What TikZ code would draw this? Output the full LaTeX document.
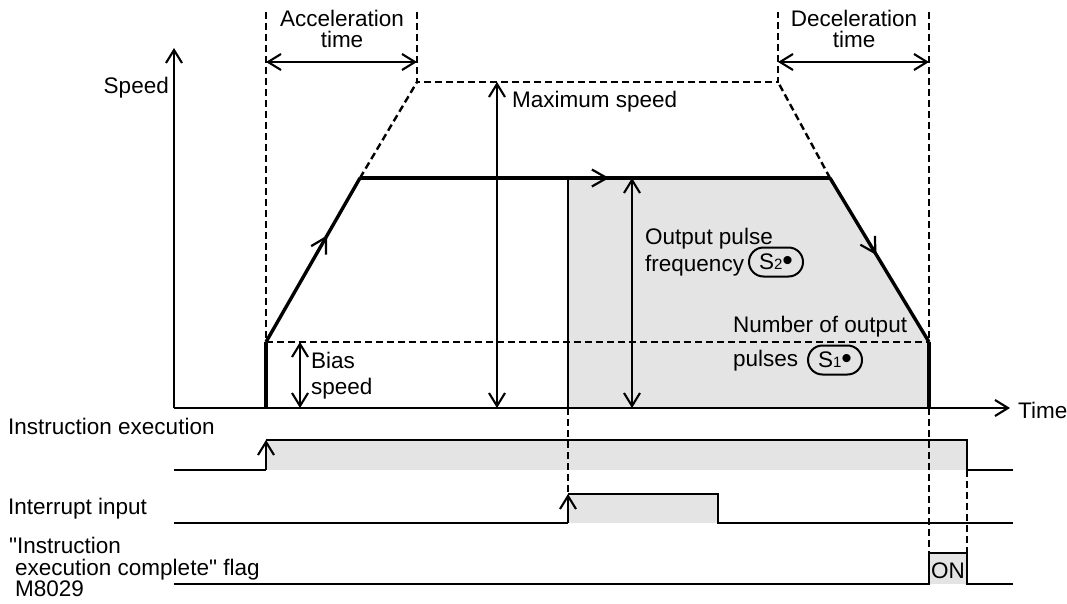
\documentclass[tikz,border=0pt]{standalone}
\usepackage{fontspec}
\setmainfont{Liberation Sans}[Ligatures=TeXOff]
\usetikzlibrary{arrows.meta,decorations.markings,shapes.misc}
\definecolor{shadegray}{HTML}{E4E4E4}
\newcommand{\opnd}[1]{S{\fontsize{15}{15}\selectfont #1}{\fontsize{30}{30}\selectfont\raisebox{-1.5pt}{\textbullet}}}

\begin{document}
\begin{tikzpicture}[x=1pt, y=-1pt, >={Straight Barb[length=13pt,width=16pt]},
  thinline/.style={line width=2.1pt},
  thickline/.style={line width=3.4pt},
  dashline/.style={line width=2.4pt, dash pattern=on 7pt off 4pt},
  txt/.style={font=\fontsize{22.5}{21}\selectfont, inner sep=0pt},
  pill/.style={draw, rounded rectangle, line width=2pt, minimum width=54pt, minimum height=29pt, inner sep=0pt, font=\fontsize{22.5}{21}\selectfont},
  midarrow/.style={postaction={decorate, decoration={markings,
    mark=at position #1 with {\arrow{Straight Barb[length=15pt,width=17pt,line width=2.2pt]}}}}}]
  \useasboundingbox (0,0) rectangle (1067,604);
  % points of the speed curve
  \coordinate (o) at (174,408);
  \coordinate (ytop) at (174,48);
  \coordinate (xend) at (1010,408);
  \coordinate (b0) at (266,408);
  \coordinate (b1) at (266,342);
  \coordinate (c1) at (360,178);
  \coordinate (c2) at (830,178);
  \coordinate (d1) at (929,342);
  \coordinate (d0) at (929,408);
  \coordinate (t1) at (417,82);
  \coordinate (t2) at (778,82);
  \coordinate (s0) at (568,408);
  \coordinate (s1) at (568,178);
  \coordinate (accl) at (266,12);
  \coordinate (accr) at (417,12);
  \coordinate (decl) at (778,12);
  \coordinate (decr) at (929,12);
  \fill[shadegray] (s1) -- (c2) -- (d1) -- (d0) -- (s0) -- cycle;
  \fill[shadegray] (266,440) rectangle (967,470);
  \fill[shadegray] (568,494) rectangle (718,523);
  \fill[shadegray] (929,553) rectangle (967,584);
  % dashed guides
  \draw[dashline] (accl) -- (b1);
  \draw[dashline] (accr) -- (t1) -- (t2) -- (decl);
  \draw[dashline] (decr) -- (d1);
  \draw[dashline] (c1) -- (t1);
  \draw[dashline] (c2) -- (t2);
  \draw[dashline] (b1) -- (d1);
  \draw[dashline] (s0) -- (568,494);
  \draw[dashline] (d0) -- (929,553);
  \draw[dashline] (967,470) -- (967,553);
  % axes
  \draw[thinline, ->] (o) -- (ytop);
  \draw[thinline, ->] (o) -- (xend);
  \node[txt, anchor=base east] (speed) at (169,94) {Speed};
  \node[txt, anchor=base west] (time) at (1018,418) {Time};
  % speed curve
  \draw[thickline] (b0) -- (b1);
  \draw[thickline, midarrow=0.65] (b1) -- (c1);
  \draw[thickline, midarrow=0.53] (c1) -- (c2);
  \draw[thickline, midarrow=0.47] (c2) -- (d1);
  \draw[thickline] (d1) -- (d0);
  \draw[thinline] (s1) -- (s0);
  % dimension arrows
  \draw[thinline, <->] (accl |- 0,62) -- (accr |- 0,62);
  \draw[thinline, <->] (decl |- 0,62) -- (decr |- 0,62);
  \draw[thinline, <->] (300,342) -- (300,408);
  \draw[thinline, <->] (497,82) -- (497,408);
  \draw[thinline, <->] (632,178) -- (632,408);
  \node[txt, align=center, anchor=base] (acc) at (342,48) {Acceleration\\time};
  \node[txt, align=center, anchor=base] (dec) at (854,48) {Deceleration\\time};
  \node[txt, anchor=base west] (maxs) at (512,108) {Maximum speed};
  \node[txt, anchor=base west] (bias1) at (311,368) {Bias};
  \node[txt, anchor=base west] (bias2) at (311,394) {speed};
  \node[txt, anchor=base west] (opf1) at (645,244) {Output pulse};
  \node[txt, anchor=base west] (opf2) at (645,271) {frequency};
  \node[pill] (s2) at (776,262) {\opnd{2}};
  \node[txt, anchor=base west] (nop1) at (733,332) {Number of output};
  \node[txt, anchor=base west] (nop2) at (733,366) {pulses};
  \node[pill] (s1) at (835,360) {\opnd{1}};
  % timing chart
  \node[txt, anchor=base west] (exec) at (8,434) {Instruction execution};
  \node[txt, anchor=base west] (intr) at (8,514) {Interrupt input};
  \node[txt, anchor=base west] (flag1) at (9,553) {"Instruction};
  \node[txt, anchor=base west] (flag2) at (15,575) {execution complete" flag};
  \node[txt, anchor=base west] (flag3) at (15,596) {M8029};
  \draw[thinline] (174,470) -- (266,470);
  \draw[thinline, ->] (266,470) -- (266,440);
  \draw[thinline] (266,440) -- (967,440) -- (967,470) -- (1013,470);
  \draw[thinline] (174,523) -- (568,523);
  \draw[thinline, ->] (568,523) -- (568,494);
  \draw[thinline] (568,494) -- (718,494) -- (718,523) -- (1013,523);
  \draw[thinline] (174,584) -- (929,584) -- (929,553) -- (967,553) -- (967,584) -- (1013,584);
  \node[txt] (on) at (948,571) {ON};
\end{tikzpicture}
\end{document}
